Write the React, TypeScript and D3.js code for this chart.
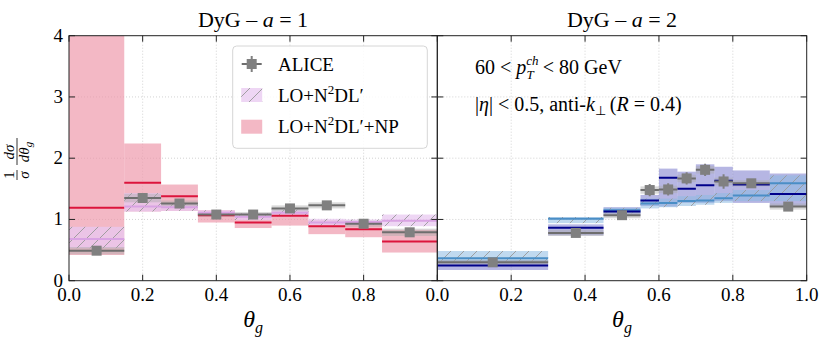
import React from "react";
import * as d3 from "d3";

// bin edges and values
const edgesA1 = [0, 0.15, 0.25, 0.35, 0.45, 0.55, 0.65, 0.75, 0.85, 1.0];
const aliceA1 = [0.49, 1.35, 1.26, 1.08, 1.08, 1.18, 1.23, 0.93, 0.79];
const aliceStatA1 = [0.03, 0.04, 0.03, 0.03, 0.03, 0.03, 0.03, 0.03, 0.04];
const aliceSysA1 = [0.06, 0.07, 0.05, 0.04, 0.04, 0.05, 0.05, 0.05, 0.06];
const loA1 = [0.68, 1.21, 1.2, 1.11, 1.045, 1.11, 0.95, 0.96, 0.98];
const loLowA1 = [0.53, 1.13, 1.14, 1.06, 0.99, 1.05, 0.9, 0.91, 0.89];
const loHighA1 = [0.88, 1.43, 1.26, 1.15, 1.1, 1.16, 1.01, 1.0, 1.08];
const npA1 = [1.19, 1.6, 1.38, 1.07, 0.95, 1.06, 0.89, 0.84, 0.64];
const npLowA1 = [0.42, 1.13, 1.14, 0.95, 0.86, 0.9, 0.76, 0.71, 0.46];
const npHighA1 = [4.5, 2.24, 1.57, 1.15, 1.06, 1.13, 0.99, 0.94, 0.83];

const edgesA2 = [0, 0.3, 0.45, 0.55, 0.6, 0.65, 0.7, 0.75, 0.8, 0.9, 1.0];
const aliceA2 = [0.3, 0.78, 1.07, 1.48, 1.49, 1.67, 1.81, 1.62, 1.59, 1.21];
const aliceStatA2 = [0.03, 0.03, 0.04, 0.1, 0.1, 0.1, 0.1, 0.12, 0.05, 0.06];
const aliceSysA2 = [0.04, 0.05, 0.05, 0.06, 0.06, 0.06, 0.06, 0.06, 0.05, 0.05];
const loA2 = [0.365, 1.01, 1.15, 1.26, 1.27, 1.3, 1.31, 1.345, 1.39, 1.59];
const loLowA2 = [0.31, 0.94, 1.1, 1.18, 1.2, 1.22, 1.24, 1.27, 1.3, 1.3];
const loHighA2 = [0.485, 1.04, 1.19, 1.34, 1.34, 1.38, 1.4, 1.43, 1.48, 1.72];
const npA2 = [0.25, 0.865, 1.13, 1.31, 1.68, 1.5, 1.56, 1.63, 1.57, 1.415];
const npLowA2 = [0.175, 0.74, 1.06, 1.22, 1.21, 1.27, 1.27, 1.3, 1.27, 1.21];
const npHighA2 = [0.34, 0.92, 1.2, 1.4, 1.83, 1.78, 1.9, 1.86, 1.8, 1.75];

const xTicksLeft = [0, 0.2, 0.4, 0.6, 0.8];
const xTicksRight = [0, 0.2, 0.4, 0.6, 0.8, 1.0];
const yTicks = [0, 1, 2, 3, 4];

const FONT = "Liberation Serif";
const top = 35.7;
const bottom = 280.7;

const y = d3.scaleLinear().domain([0, 4]).range([bottom, top]);

type Style = {
  loFill: string;
  loLine: string;
  npFill: string;
  npLine: string;
};

const styleA1: Style = {
  loFill: "rgba(232, 200, 240, 0.75)",
  loLine: "#d9a3e3",
  npFill: "rgba(238, 150, 170, 0.68)",
  npLine: "#dc143c",
};
const styleA2: Style = {
  loFill: "rgba(140, 185, 225, 0.55)",
  loLine: "#4a8ec6",
  npFill: "rgba(110, 110, 200, 0.5)",
  npLine: "#00008b",
};

function Panel({ id, x0, x1, edges, alice, stat, sys, lo, loLow, loHigh, np, npLow, npHigh, st, xticks, yLabels }: any) {
  const x = d3.scaleLinear().domain([0, 1]).range([x0, x1]);
  const bins = d3.range(alice.length);
  const tick = 6;
  return (
    <g>
      <defs>
        <clipPath id={`clip-${id}`}>
          <rect x={x0} y={top} width={x1 - x0} height={bottom - top} />
        </clipPath>
      </defs>
      {/* grid */}
      {xticks.filter((t: number) => t > 0 && t < 1).map((t: number) => (
        <line key={`gx${t}`} x1={x(t)} x2={x(t)} y1={top} y2={bottom} stroke="#c8c8c8" strokeWidth={0.8} strokeDasharray="1,2" />
      ))}
      {yTicks.filter((t) => t > 0 && t < 4).map((t) => (
        <line key={`gy${t}`} x1={x0} x2={x1} y1={y(t)} y2={y(t)} stroke="#c8c8c8" strokeWidth={0.8} strokeDasharray="1,2" />
      ))}
      <g clipPath={`url(#clip-${id})`}>
        {/* NP band */}
        {bins.map((i) => (
          <rect key={`np${i}`} x={x(edges[i])} width={x(edges[i + 1]) - x(edges[i])} y={y(npHigh[i])} height={y(npLow[i]) - y(npHigh[i])} fill={st.npFill} />
        ))}
        {/* LO band + hatch */}
        {bins.map((i) => (
          <g key={`lo${i}`}>
            <rect x={x(edges[i])} width={x(edges[i + 1]) - x(edges[i])} y={y(loHigh[i])} height={y(loLow[i]) - y(loHigh[i])} fill={st.loFill} />
            <rect x={x(edges[i])} width={x(edges[i + 1]) - x(edges[i])} y={y(loHigh[i])} height={y(loLow[i]) - y(loHigh[i])} fill="url(#hatch)" />
          </g>
        ))}
        {/* ALICE systematics */}
        {bins.map((i) => (
          <rect key={`sys${i}`} x={x(edges[i])} width={x(edges[i + 1]) - x(edges[i])} y={y(alice[i] + sys[i])} height={y(alice[i] - sys[i]) - y(alice[i] + sys[i])} fill="rgba(170,170,170,0.45)" />
        ))}
        {/* theory lines */}
        {bins.map((i) => (
          <g key={`ln${i}`}>
            <line x1={x(edges[i])} x2={x(edges[i + 1])} y1={y(lo[i])} y2={y(lo[i])} stroke={st.loLine} strokeWidth={2} />
            <line x1={x(edges[i])} x2={x(edges[i + 1])} y1={y(np[i])} y2={y(np[i])} stroke={st.npLine} strokeWidth={2} />
          </g>
        ))}
        {/* ALICE points */}
        {bins.map((i) => {
          const cx = x((edges[i] + edges[i + 1]) / 2);
          const cy = y(alice[i]);
          return (
            <g key={`al${i}`}>
              <line x1={x(edges[i])} x2={x(edges[i + 1])} y1={cy} y2={cy} stroke="#6e6e6e" strokeWidth={2} />
              <line x1={cx} x2={cx} y1={y(alice[i] + stat[i])} y2={y(alice[i] - stat[i])} stroke="#808080" strokeWidth={2} />
              <rect x={cx - 5} y={cy - 5} width={10} height={10} fill="#808080" />
            </g>
          );
        })}
      </g>
      {/* frame */}
      <rect x={x0} y={top} width={x1 - x0} height={bottom - top} fill="none" stroke="#222" strokeWidth={1} />
      {/* ticks */}
      {xticks.map((t: number) => (
        <g key={`tx${t}`}>
          <line x1={x(t)} x2={x(t)} y1={bottom} y2={bottom - tick} stroke="#222" />
          <line x1={x(t)} x2={x(t)} y1={top} y2={top + tick} stroke="#222" />
          <text x={x(t)} y={bottom + 20} textAnchor="middle" fontSize={19} fontFamily={FONT}>{t.toFixed(1)}</text>
        </g>
      ))}
      {yTicks.map((t) => (
        <g key={`ty${t}`}>
          <line x1={x0} x2={x0 + tick} y1={y(t)} y2={y(t)} stroke="#222" />
          <line x1={x1} x2={x1 - tick} y1={y(t)} y2={y(t)} stroke="#222" />
          {yLabels && (
            <text x={x0 - 6} y={y(t) + 6} textAnchor="end" fontSize={19} fontFamily={FONT}>{t}</text>
          )}
        </g>
      ))}
      {/* x label */}
      <text x={(x0 + x1) / 2} y={327} textAnchor="middle" fontSize={24} fontFamily={FONT} fontStyle="italic">
        θ<tspan fontSize={16} dy={6}>g</tspan>
      </text>
    </g>
  );
}

function Legend() {
  const lx = 232.7;
  const ly = 46;
  const rows = [64, 95, 126.7];
  const hx = 251.7;
  const tx = 278;
  return (
    <g fontFamily={FONT} fontSize={19}>
      <rect x={lx} y={ly} width={194.6} height={102.3} rx={4} fill="rgba(255,255,255,0.85)" stroke="#d6d6d6" />
      {/* ALICE */}
      <line x1={hx - 10} x2={hx + 10} y1={rows[0]} y2={rows[0]} stroke="#6e6e6e" strokeWidth={2} />
      <line x1={hx} x2={hx} y1={rows[0] - 8} y2={rows[0] + 8} stroke="#808080" strokeWidth={2} />
      <rect x={hx - 5} y={rows[0] - 5} width={10} height={10} fill="#808080" />
      <text x={tx} y={rows[0] + 6.5}>ALICE</text>
      {/* LO */}
      <rect x={hx - 10.5} y={rows[1] - 7} width={21} height={14} fill={styleA1.loFill} />
      <rect x={hx - 10.5} y={rows[1] - 7} width={21} height={14} fill="url(#hatch)" />
      <text x={tx} y={rows[1] + 6.5}>
        LO+N<tspan fontSize={13} dy={-8}>2</tspan><tspan dy={8}>DL′</tspan>
      </text>
      {/* NP */}
      <rect x={hx - 10.5} y={rows[2] - 7} width={21} height={14} fill={styleA1.npFill} />
      <text x={tx} y={rows[2] + 6.5}>
        LO+N<tspan fontSize={13} dy={-8}>2</tspan><tspan dy={8}>DL′+NP</tspan>
      </text>
    </g>
  );
}

export default function App() {
  const mid = 437.3;
  return (
    <svg width={830} height={348} viewBox="0 0 830 348" style={{ position: "absolute", left: 0, top: 0, background: "#fff" }}>
      <defs>
        <pattern id="hatch" patternUnits="userSpaceOnUse" width={13} height={13}>
          <line x1={0} y1={13} x2={13} y2={0} stroke="#999" strokeWidth={0.9} />
          <line x1={-3} y1={3} x2={3} y2={-3} stroke="#999" strokeWidth={0.9} />
          <line x1={10} y1={16} x2={16} y2={10} stroke="#999" strokeWidth={0.9} />
        </pattern>
      </defs>
      <Panel id="a1" x0={69} x1={mid} edges={edgesA1} alice={aliceA1} stat={aliceStatA1} sys={aliceSysA1}
        lo={loA1} loLow={loLowA1} loHigh={loHighA1} np={npA1} npLow={npLowA1} npHigh={npHighA1}
        st={styleA1} xticks={xTicksLeft} yLabels={true} />
      <Panel id="a2" x0={mid} x1={806.7} edges={edgesA2} alice={aliceA2} stat={aliceStatA2} sys={aliceSysA2}
        lo={loA2} loLow={loLowA2} loHigh={loHighA2} np={npA2} npLow={npLowA2} npHigh={npHighA2}
        st={styleA2} xticks={xTicksRight} yLabels={false} />
      <Legend />
      {/* titles */}
      <text x={253} y={27} textAnchor="middle" fontSize={22} fontFamily={FONT}>
        DyG – <tspan fontStyle="italic">a</tspan> = 1
      </text>
      <text x={622} y={27} textAnchor="middle" fontSize={22} fontFamily={FONT}>
        DyG – <tspan fontStyle="italic">a</tspan> = 2
      </text>
      {/* annotation */}
      <text x={475} y={74} fontSize={20} fontFamily={FONT}>
        {"60 < "}<tspan fontStyle="italic">p</tspan>
        <tspan fontStyle="italic" fontSize={13} dy={-9}>ch</tspan>
        <tspan fontStyle="italic" fontSize={13} dx={-12} dy={14}>T</tspan>
        <tspan dx={9} dy={-5}>{"< 80 GeV"}</tspan>
      </text>
      <text x={475} y={111} fontSize={20} fontFamily={FONT}>
        |<tspan fontStyle="italic">η</tspan>| &lt; 0.5, anti-<tspan fontStyle="italic">k</tspan>
        <tspan fontSize={13} dy={4}>⊥</tspan>
        <tspan dx={4} dy={-4}>(</tspan><tspan fontStyle="italic">R</tspan> = 0.4)
      </text>
      {/* y label */}
      <g transform="translate(17,158) rotate(-90)" fontFamily={FONT} fontSize={15}>
        <text x={-17} y={-3} textAnchor="middle">1</text>
        <line x1={-22} x2={-12} y1={0} y2={0} stroke="#000" strokeWidth={0.8} />
        <text x={-17} y={12} textAnchor="middle" fontStyle="italic">σ</text>
        <text x={6} y={-3} textAnchor="middle" fontStyle="italic">dσ</text>
        <line x1={-7} x2={20} y1={0} y2={0} stroke="#000" strokeWidth={0.8} />
        <text x={6} y={12} textAnchor="middle" fontStyle="italic">
          dθ<tspan fontSize={11} dy={3}>g</tspan>
        </text>
      </g>
    </svg>
  );
}
